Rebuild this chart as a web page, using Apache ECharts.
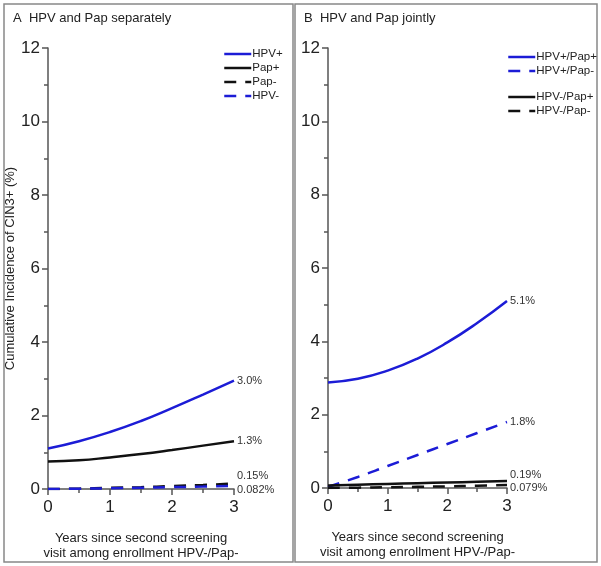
<!DOCTYPE html>
<html>
<head>
<meta charset="utf-8">
<script src="https://cdn.jsdelivr.net/npm/echarts@6/dist/echarts.min.js"></script>
<style>
  html, body { margin: 0; padding: 0; background: #fff; }
  #main { width: 601px; height: 566px; }
</style>
</head>
<body>
<div id="main"></div>
<script>
// years on the x axis
const years = [0, 0.5, 1, 1.5, 2, 2.5, 3]
const yTicks = [0, 2, 4, 6, 8, 10, 12]

// panel A: HPV and Pap separately
const hpvPos = [1.1, 1.3, 1.55, 1.85, 2.2, 2.57, 2.95]
const papPos = [0.75, 0.78, 0.86, 0.95, 1.06, 1.18, 1.3]
const papNeg = [0.0, 0.01, 0.03, 0.05, 0.08, 0.11, 0.15]
const hpvNeg = [0.0, 0.008, 0.02, 0.035, 0.05, 0.065, 0.082]

// panel B: HPV and Pap jointly
const hpvPosPapPos = [2.88, 2.98, 3.2, 3.53, 3.97, 4.5, 5.1]
const hpvPosPapNeg = [0.03, 0.3, 0.6, 0.9, 1.2, 1.5, 1.8]
const hpvNegPapPos = [0.07, 0.09, 0.11, 0.13, 0.15, 0.17, 0.19]
const hpvNegPapNeg = [0.0, 0.01, 0.02, 0.032, 0.045, 0.06, 0.079]

const namesA = ['HPV+', 'Pap+', 'Pap-', 'HPV-']
const namesB = ['HPV+/Pap+', 'HPV+/Pap-', 'HPV-/Pap+', 'HPV-/Pap-']
const endA = ['3.0%', '1.3%', '0.15%', '0.082%']
const endB = ['5.1%', '1.8%', '0.19%', '0.079%']

const BLUE = '#1c1cd6'
const BLACK = '#111'
const AXIS = '#555'
const DASH = [12, 9]

const pairs = (vals) => years.map((x, i) => [x, vals[i]])

const chart = echarts.init(document.getElementById('main'))

function xAxisFor(gridIndex) {
  return {
    type: 'value', gridIndex: gridIndex, min: 0, max: 3, interval: 1,
    name: 'Years since second screening\nvisit among enrollment HPV-/Pap-',
    nameLocation: 'middle', nameGap: 42,
    nameTextStyle: { fontSize: 13, color: '#222', lineHeight: 15, fontFamily: 'Liberation Sans' },
    axisLine: { onZero: false, lineStyle: { color: AXIS, width: 1.5 } },
    axisTick: { length: 6, lineStyle: { color: AXIS, width: 1.5 } },
    minorTick: { show: true, splitNumber: 2, length: 4, lineStyle: { color: AXIS, width: 1.5 } },
    axisLabel: { fontSize: 17, color: '#222', margin: 10, fontFamily: 'Liberation Sans' },
    splitLine: { show: false }
  }
}

function yAxisFor(gridIndex, withName) {
  return {
    type: 'value', gridIndex: gridIndex, min: 0, max: 12, interval: 2,
    name: withName ? 'Cumulative Incidence of CIN3+ (%)' : '',
    nameLocation: 'middle', nameGap: 30, nameRotate: 90,
    nameTextStyle: { fontSize: 13, color: '#222', fontFamily: 'Liberation Sans' },
    axisLine: { show: true, lineStyle: { color: AXIS, width: 1.5 } },
    axisTick: { show: true, length: 6, lineStyle: { color: AXIS, width: 1.5 } },
    minorTick: { show: true, splitNumber: 2, length: 4, lineStyle: { color: AXIS, width: 1.5 } },
    axisLabel: {
      fontSize: 17, color: '#222', margin: 8, fontFamily: 'Liberation Sans',
      formatter: (v) => (yTicks.indexOf(v) >= 0 ? String(v) : '')
    },
    splitLine: { show: false }
  }
}

function lineSeries(name, vals, color, dashed, idx, label, offset) {
  return {
    name: name, type: 'line', xAxisIndex: idx, yAxisIndex: idx,
    data: pairs(vals), smooth: true, symbol: 'none',
    lineStyle: { color: color, width: 2.5, type: dashed ? DASH : 'solid' },
    itemStyle: { color: color },
    endLabel: {
      show: true, formatter: label, fontSize: 11, color: '#333',
      fontFamily: 'Liberation Sans', distance: 3, offset: offset
    },
    z: dashed ? 3 : 4
  }
}

// legend: line only, no circle marker
function legendFor(names, left, top) {
  return {
    data: names, orient: 'vertical', left: left, top: top, padding: 0,
    itemWidth: 27, itemHeight: 14, itemGap: 2,
    itemStyle: { opacity: 0 },
    lineStyle: { width: 2.5 },
    textStyle: { fontSize: 11.5, color: '#222', fontFamily: 'Liberation Sans', padding: [0, 0, 0, -4] }
  }
}

const option = {
  animation: false,
  backgroundColor: '#fff',
  title: [
    { text: 'A  HPV and Pap separately', left: 8, top: 7,
      textStyle: { fontSize: 13, fontWeight: 'normal', color: '#222', fontFamily: 'Liberation Sans' } },
    { text: 'B  HPV and Pap jointly', left: 299, top: 7,
      textStyle: { fontSize: 13, fontWeight: 'normal', color: '#222', fontFamily: 'Liberation Sans' } }
  ],
  legend: [
    legendFor(namesA, 223, 48),
    legendFor(namesB.slice(0, 2), 507, 51),
    legendFor(namesB.slice(2), 507, 91)
  ],
  grid: [
    { left: 48, top: 48, width: 186, height: 442 },
    { left: 328, top: 48, width: 179, height: 440 }
  ],
  xAxis: [xAxisFor(0), xAxisFor(1)],
  yAxis: [yAxisFor(0, true), yAxisFor(1, false)],
  graphic: [
    { type: 'rect', shape: { x: 4, y: 4, width: 289, height: 558 },
      style: { fill: 'none', stroke: '#888', lineWidth: 1.5 }, silent: true },
    { type: 'rect', shape: { x: 295, y: 4, width: 302, height: 558 },
      style: { fill: 'none', stroke: '#888', lineWidth: 1.5 }, silent: true }
  ],
  series: [
    lineSeries(namesA[0], hpvPos, BLUE, false, 0, endA[0], [0, 0]),
    lineSeries(namesA[1], papPos, BLACK, false, 0, endA[1], [0, 0]),
    lineSeries(namesA[2], papNeg, BLACK, true, 0, endA[2], [0, -8]),
    lineSeries(namesA[3], hpvNeg, BLUE, true, 0, endA[3], [0, 4]),
    lineSeries(namesB[0], hpvPosPapPos, BLUE, false, 1, endB[0], [0, 0]),
    lineSeries(namesB[1], hpvPosPapNeg, BLUE, true, 1, endB[1], [0, 0]),
    lineSeries(namesB[2], hpvNegPapPos, BLACK, false, 1, endB[2], [0, -6]),
    lineSeries(namesB[3], hpvNegPapNeg, BLACK, true, 1, endB[3], [0, 3])
  ]
}

option && chart.setOption(option)
</script>
</body>
</html>
